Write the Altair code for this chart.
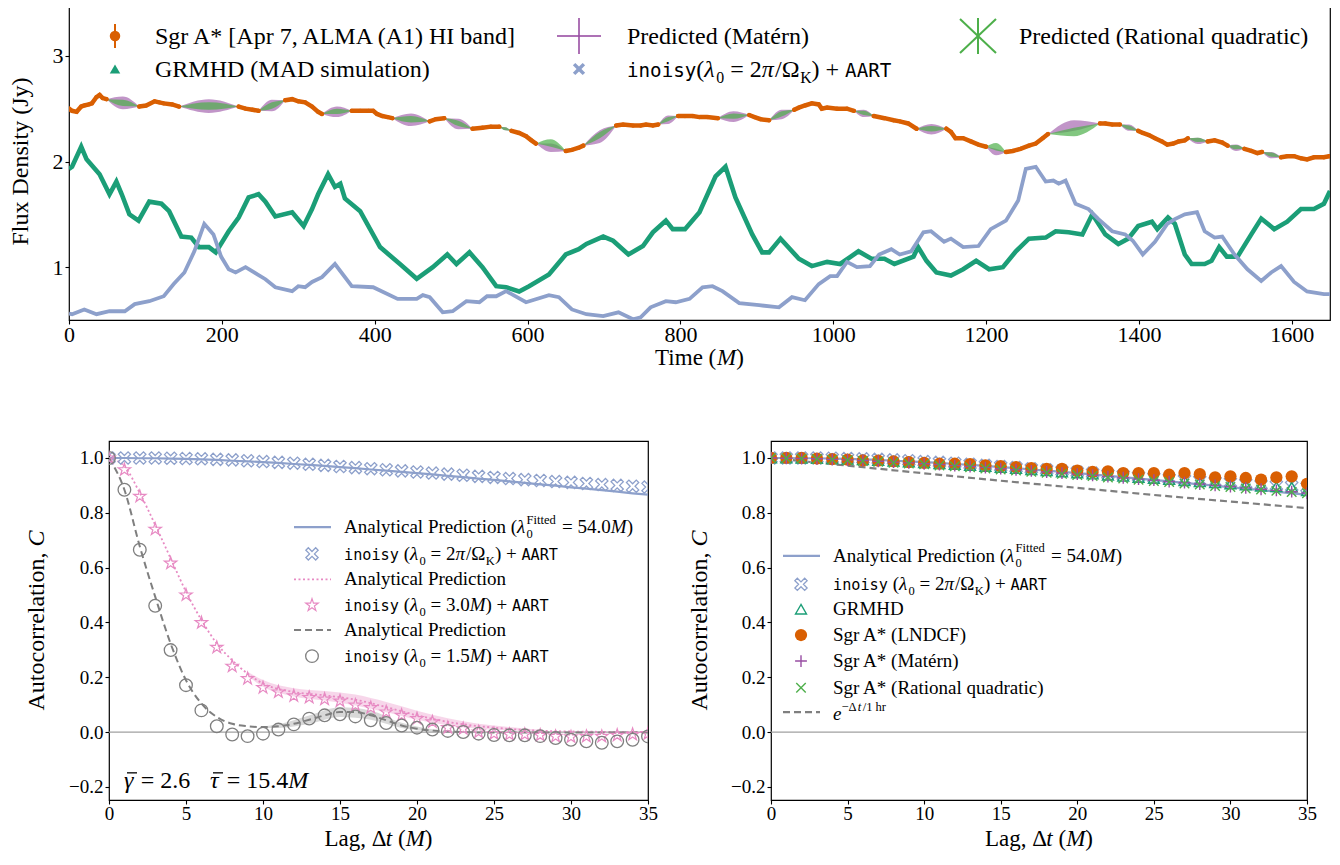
import altair as alt
import pandas as pd

SERIF = "Liberation Serif"
MONO = "DejaVu Sans Mono"
ORANGE = "#d95f02"
TEAL = "#1b9e77"
BLUE = "#8da0cb"
PINK = "#e78ac3"
GRAY = "#7f7f7f"
PURPLE = "#984ea3"
LGREEN = "#4daf4a"

# ---------------------------------------------------------------- data (top)
grmhd_time = [0, 4, 16, 23, 40, 53, 62, 69, 79, 91, 105, 121, 131, 147, 160, 170, 183, 192, 209, 222, 235,
              248, 257, 270, 292, 307, 318, 326, 339, 348, 355, 361, 381, 407, 433, 455, 476, 495, 507, 524, 541,
              559, 572, 589, 602, 628, 650, 667, 677, 699, 712, 732, 751, 764, 781, 790, 806, 825, 846, 859, 872,
              894, 907, 916, 931, 955, 972, 992, 1009, 1033, 1050, 1067, 1080, 1105, 1111, 1122, 1135, 1154, 1170, 1187, 1204,
              1222, 1239, 1256, 1278, 1291, 1308, 1326, 1339, 1356, 1373, 1386, 1399, 1417, 1424, 1438, 1447, 1460, 1469, 1486, 1495,
              1505, 1515, 1529, 1547, 1560, 1577, 1594, 1612, 1629, 1642, 1650]
grmhd_flux = [1.93, 1.95, 2.14, 2.02, 1.88, 1.69, 1.81, 1.69, 1.50, 1.44, 1.62, 1.60, 1.53, 1.29, 1.28, 1.19, 1.19, 1.14, 1.34, 1.47, 1.66,
              1.69, 1.62, 1.48, 1.52, 1.39, 1.55, 1.69, 1.88, 1.76, 1.79, 1.65, 1.53, 1.19, 1.03, 0.89, 1.00, 1.12, 1.03, 1.14, 1.00,
              0.82, 0.81, 0.77, 0.82, 0.93, 1.12, 1.17, 1.22, 1.29, 1.25, 1.12, 1.20, 1.33, 1.44, 1.36, 1.36, 1.52, 1.86, 1.95, 1.66,
              1.31, 1.14, 1.14, 1.27, 1.08, 1.01, 1.05, 1.03, 1.15, 1.08, 1.08, 1.03, 1.10, 1.19, 1.06, 0.95, 0.92, 0.98, 1.06, 0.98,
              1.00, 1.15, 1.27, 1.28, 1.34, 1.33, 1.31, 1.50, 1.31, 1.22, 1.27, 1.39, 1.43, 1.36, 1.47, 1.41, 1.12, 1.03, 1.03, 1.06,
              1.19, 1.10, 1.10, 1.31, 1.46, 1.36, 1.43, 1.55, 1.55, 1.60, 1.72]

inoisy_time = [0, 4, 20, 36, 53, 73, 86, 105, 124, 137, 151, 164, 177, 189, 199, 209, 218, 231, 247, 257,
               270, 292, 300, 309, 318, 331, 348, 370, 398, 430, 455, 463, 472, 489, 502, 520, 537, 547, 559, 572,
               598, 628, 641, 658, 677, 699, 719, 738, 748, 761, 781, 794, 812, 829, 842, 855, 877, 903, 929, 946,
               963, 981, 996, 1005, 1018, 1031, 1048, 1060, 1076, 1087, 1102, 1118, 1128, 1145, 1154, 1170, 1190, 1206, 1226, 1242,
               1252, 1265, 1278, 1288, 1295, 1304, 1317, 1334, 1347, 1365, 1382, 1392, 1405, 1421, 1437, 1447, 1460, 1476, 1486, 1499,
               1509, 1525, 1542, 1560, 1573, 1586, 1603, 1620, 1642, 1650]
inoisy_flux = [0.56, 0.555, 0.60, 0.555, 0.583, 0.583, 0.65, 0.678, 0.725, 0.84, 0.95, 1.15, 1.41, 1.31, 1.10, 0.98, 0.95, 1.00, 0.93, 0.886,
               0.81, 0.773, 0.82, 0.81, 0.86, 0.905, 1.03, 0.82, 0.81, 0.70, 0.70, 0.735, 0.716, 0.573, 0.583, 0.678, 0.668, 0.725, 0.725, 0.773,
               0.668, 0.735, 0.716, 0.60, 0.555, 0.536, 0.573, 0.507, 0.526, 0.62, 0.678, 0.668, 0.70, 0.81, 0.82, 0.773, 0.66, 0.64, 0.62, 0.716,
               0.687, 0.84, 0.915, 0.915, 1.05, 1.00, 1.01, 1.12, 1.17, 1.12, 1.15, 1.33, 1.34, 1.24, 1.27, 1.19, 1.20, 1.36, 1.44, 1.63,
               1.93, 1.95, 1.81, 1.82, 1.79, 1.82, 1.60, 1.55, 1.455, 1.34, 1.31, 1.25, 1.12, 1.24, 1.41, 1.455, 1.50, 1.52, 1.34, 1.28,
               1.29, 1.12, 0.98, 0.87, 0.95, 1.01, 0.86, 0.77, 0.745, 0.745]

# Sgr A* observed stretches (time, flux)
sgra_segments = [
    [(0, 2.50), (4, 2.48), (10, 2.47), (16, 2.52), (20, 2.53), (26, 2.54), (30, 2.55), (36, 2.61), (40, 2.63), (44, 2.60), (49, 2.59)],
    [(92, 2.52), (101, 2.53), (112, 2.57), (118, 2.56), (124, 2.55), (135, 2.54), (144, 2.52)],
    [(222, 2.52), (231, 2.50), (240, 2.49), (248, 2.48)],
    [(283, 2.58), (292, 2.59), (300, 2.57), (309, 2.56), (318, 2.52), (326, 2.47), (331, 2.45)],
    [(370, 2.48), (381, 2.48), (392, 2.48), (398, 2.48), (403, 2.45), (410, 2.43), (417, 2.42), (423, 2.41)],
    [(472, 2.38), (480, 2.40), (491, 2.41)],
    [(528, 2.31), (541, 2.32), (552, 2.33), (563, 2.33)],
    [(579, 2.29), (589, 2.27), (598, 2.24), (605, 2.20), (611, 2.17)],
    [(650, 2.10), (658, 2.11), (667, 2.13), (673, 2.15)],
    [(716, 2.34), (725, 2.35), (738, 2.34), (748, 2.34), (755, 2.35), (764, 2.34), (771, 2.35)],
    [(797, 2.43), (806, 2.43), (816, 2.43), (825, 2.42), (835, 2.42), (849, 2.41)],
    [(890, 2.44), (897, 2.42), (905, 2.40), (916, 2.39)],
    [(949, 2.49), (955, 2.51), (963, 2.53), (972, 2.55), (981, 2.54), (985, 2.50), (992, 2.51), (1005, 2.50), (1018, 2.50), (1027, 2.48)],
    [(1053, 2.43), (1067, 2.41), (1079, 2.39), (1087, 2.38), (1098, 2.36), (1109, 2.31)],
    [(1148, 2.31), (1154, 2.28), (1160, 2.22), (1170, 2.22), (1180, 2.19), (1190, 2.16), (1200, 2.14)],
    [(1226, 2.09), (1235, 2.10), (1245, 2.12), (1256, 2.15), (1265, 2.17), (1274, 2.22), (1281, 2.26)],
    [(1349, 2.36), (1356, 2.36), (1365, 2.35), (1375, 2.35)],
    [(1399, 2.29), (1405, 2.27), (1413, 2.25), (1421, 2.22), (1430, 2.19), (1437, 2.16), (1445, 2.17), (1452, 2.19), (1460, 2.20), (1464, 2.22)],
    [(1490, 2.19), (1499, 2.20), (1509, 2.18), (1516, 2.15)],
    [(1538, 2.12), (1547, 2.10), (1555, 2.08), (1561, 2.09)],
    [(1586, 2.04), (1594, 2.05), (1603, 2.05), (1612, 2.03), (1620, 2.02), (1629, 2.04), (1642, 2.04), (1649, 2.05)],
]

# predicted gaps: start/end time, flux at ends, centre and half-width at mid-gap
gap_t0 = [49, 144, 248, 331, 423, 491, 563, 611, 673, 771, 849, 916, 1027, 1109, 1200, 1281, 1375, 1464, 1516, 1561]
gap_t1 = [92, 222, 283, 370, 472, 528, 579, 650, 716, 797, 890, 949, 1053, 1148, 1226, 1349, 1399, 1490, 1538, 1586]
gap_f0 = [2.59, 2.52, 2.48, 2.45, 2.41, 2.41, 2.33, 2.17, 2.15, 2.35, 2.41, 2.39, 2.48, 2.31, 2.14, 2.26, 2.35, 2.22, 2.15, 2.09]
gap_f1 = [2.52, 2.52, 2.58, 2.48, 2.38, 2.31, 2.29, 2.10, 2.34, 2.43, 2.44, 2.49, 2.43, 2.31, 2.09, 2.36, 2.29, 2.19, 2.12, 2.04]
gap_mat_c = [2.555, 2.525, 2.53, 2.47, 2.395, 2.355, 2.31, 2.13, 2.235, 2.395, 2.425, 2.445, 2.455, 2.305, 2.09, 2.34, 2.32, 2.195, 2.13, 2.06]
gap_mat_w = [0.06, 0.065, 0.055, 0.05, 0.06, 0.05, 0.015, 0.04, 0.06, 0.04, 0.05, 0.045, 0.035, 0.05, 0.03, 0.05, 0.03, 0.03, 0.03, 0.03]
gap_rq_c = [2.555, 2.525, 2.53, 2.475, 2.40, 2.36, 2.31, 2.175, 2.25, 2.40, 2.43, 2.45, 2.46, 2.31, 2.14, 2.28, 2.32, 2.205, 2.135, 2.065]
gap_rq_w = [0.03, 0.035, 0.03, 0.025, 0.03, 0.025, 0.015, 0.035, 0.03, 0.02, 0.025, 0.025, 0.02, 0.025, 0.035, 0.04, 0.02, 0.02, 0.02, 0.02]

# ---------------------------------------------------------------- data (autocorrelation)
lags = list(range(36))
ac_inoisy_k = [1.000, 1.000, 1.000, 1.000, 0.999, 0.998, 0.997, 0.995, 0.993, 0.990, 0.987, 0.984, 0.981, 0.977, 0.973, 0.969,
               0.965, 0.961, 0.957, 0.953, 0.949, 0.945, 0.941, 0.937, 0.933, 0.929, 0.925, 0.921, 0.918, 0.914, 0.911, 0.907,
               0.903, 0.900, 0.897, 0.894]
ac_analytic_k = [1.000, 1.000, 0.999, 0.999, 0.998, 0.997, 0.995, 0.993, 0.990, 0.988, 0.985, 0.982, 0.978, 0.975, 0.971, 0.967,
                 0.963, 0.958, 0.954, 0.949, 0.945, 0.940, 0.935, 0.930, 0.925, 0.920, 0.915, 0.909, 0.904, 0.899, 0.893, 0.888,
                 0.883, 0.877, 0.871, 0.866]
ac_lam30 = [1.0, 0.957, 0.86, 0.74, 0.616, 0.50, 0.399, 0.309, 0.24, 0.195, 0.162, 0.146, 0.132, 0.126, 0.12, 0.113, 0.098,
            0.089, 0.073, 0.061, 0.049, 0.037, 0.016, 0.012, 0.0, -0.006, -0.009, -0.009, -0.012, -0.016, -0.018, -0.016,
            -0.016, -0.012, -0.009, -0.006]
ac_lam15 = [1.0, 0.884, 0.665, 0.461, 0.299, 0.171, 0.079, 0.021, -0.009, -0.015, -0.006, 0.009, 0.028, 0.049, 0.061, 0.065,
            0.057, 0.043, 0.033, 0.024, 0.016, 0.009, 0.004, 0.0, -0.006, -0.011, -0.012, -0.012, -0.015, -0.022, -0.028,
            -0.034, -0.039, -0.034, -0.028, -0.016]
pink_line_lag = [0, 1, 2, 3, 4, 5, 6, 7, 8, 9, 10, 12, 14, 16, 18, 20, 22, 25, 30, 35]
pink_line = [1.0, 0.97, 0.872, 0.756, 0.634, 0.512, 0.409, 0.323, 0.262, 0.213, 0.177, 0.146, 0.134, 0.118, 0.091, 0.061,
             0.037, 0.016, 0.002, 0.0]
pink_band_lag = [9, 10, 12, 14, 16, 18, 20, 22, 24, 26, 28]
pink_band_lo = [0.205, 0.165, 0.13, 0.115, 0.097, 0.072, 0.045, 0.025, 0.012, 0.006, 0.002]
pink_band_hi = [0.22, 0.19, 0.16, 0.15, 0.137, 0.11, 0.078, 0.05, 0.03, 0.018, 0.008]
gray_line_lag = [0, 1, 2, 3, 4, 5, 6, 7, 8, 9, 10, 11, 12, 13, 14, 15, 16, 17, 18, 19, 20, 22, 25, 30, 35]
gray_line = [1.0, 0.884, 0.677, 0.494, 0.323, 0.189, 0.104, 0.055, 0.030, 0.021, 0.018, 0.021, 0.030, 0.045, 0.061, 0.073,
             0.073, 0.061, 0.043, 0.024, 0.012, 0.002, -0.002, -0.002, -0.002]
gray_band_lag = [10, 11, 13, 15, 17, 19, 21]
gray_band_lo = [0.015, 0.015, 0.03, 0.055, 0.045, 0.015, 0.002]
gray_band_hi = [0.02, 0.028, 0.06, 0.09, 0.078, 0.034, 0.01]
ac_grmhd = [1.000, 1.000, 0.999, 0.998, 0.997, 0.995, 0.993, 0.991, 0.988, 0.985, 0.982, 0.979, 0.976, 0.972, 0.969, 0.965,
            0.961, 0.957, 0.953, 0.949, 0.945, 0.941, 0.937, 0.933, 0.929, 0.925, 0.921, 0.917, 0.913, 0.909, 0.905, 0.901,
            0.897, 0.895, 0.894, 0.880]
ac_lndcf = [1.0, 1.0, 1.0, 0.998, 0.996, 0.994, 0.991, 0.990, 0.988, 0.985, 0.982, 0.979, 0.979, 0.978, 0.973, 0.970, 0.967,
            0.963, 0.960, 0.960, 0.954, 0.949, 0.951, 0.945, 0.945, 0.945, 0.939, 0.945, 0.941, 0.929, 0.933, 0.927, 0.921,
            0.929, 0.933, 0.906]
ac_matern = [1.000, 0.999, 0.998, 0.997, 0.995, 0.993, 0.991, 0.988, 0.985, 0.982, 0.979, 0.976, 0.972, 0.969, 0.965, 0.961,
             0.957, 0.953, 0.949, 0.945, 0.941, 0.937, 0.932, 0.928, 0.923, 0.919, 0.914, 0.910, 0.905, 0.900, 0.896, 0.891,
             0.886, 0.882, 0.877, 0.872]
ac_rq = [1.000, 0.999, 0.998, 0.996, 0.994, 0.992, 0.989, 0.986, 0.983, 0.980, 0.977, 0.973, 0.970, 0.966, 0.962, 0.958,
         0.954, 0.950, 0.946, 0.942, 0.938, 0.934, 0.929, 0.925, 0.921, 0.916, 0.912, 0.907, 0.903, 0.898, 0.894, 0.889,
         0.885, 0.880, 0.876, 0.871]
exp_lag = [0, 5, 10, 15, 20, 25, 30, 35]
exp_val = [1.0, 0.972, 0.944, 0.917, 0.891, 0.865, 0.841, 0.817]

# ---------------------------------------------------------------- helpers
ONE = pd.DataFrame({"_": [0]})

W_RM = {" ": .25, "(": .333, ")": .333, "[": .333, "]": .333, "*": .5, "+": .564, "=": .564, "/": .278, ",": .25,
        ".": .25, "-": .333, "\u2212": .564,
        "A": .722, "C": .667, "D": .722, "F": .556, "G": .722, "H": .722, "I": .333, "J": .389, "K": .722, "L": .611,
        "M": .889, "N": .722, "P": .556, "R": .667, "S": .556, "T": .611,
        "a": .444, "b": .5, "c": .444, "d": .5, "e": .444, "f": .333, "g": .5, "h": .5, "i": .278, "l": .278, "m": .778,
        "n": .5, "o": .5, "p": .5, "q": .5, "r": .333, "s": .389, "t": .278, "u": .5, "x": .5, "y": .5, "\u00e9": .444,
        "\u0394": .61, "\u03a9": .77, "\u03bb": .5, "\u03c0": .55, "\u03b3": .45, "\u03c4": .45}
W_IT = dict(W_RM)
W_IT.update({"M": .833, "t": .278, "e": .444, "C": .667})
SMALL = 0.66


def run_width(text, style, size):
    if style == "tt":
        return 0.602 * 0.8 * size * len(text)
    table = W_IT if "it" in style else W_RM
    fs = size * SMALL if style[:3] in ("sub", "sup") else size
    return sum(table.get(ch, 0.5) for ch in text) * fs


def rich(runs, x, y, size, align="left", angle=0, color="black"):
    info = []
    total = 0.0
    for text, style in runs:
        noadv = style.endswith("!")
        st = style.rstrip("!")
        w = run_width(text, st, size)
        if st.startswith("sup"):
            w += 1.5
        adv = 0.0 if noadv else w
        info.append((text, st, adv))
        total += adv
    pos = -total / 2 if align == "center" else (-total if align == "right" else 0.0)
    layers = []
    for text, st, adv in info:
        small = st[:3] in ("sub", "sup")
        fs = size * SMALL if small else (size * 0.8 if st == "tt" else size)
        shift = 0.25 * size if st.startswith("sub") else (-0.5 * size if st.startswith("sup") else 0.0)
        body = text.lstrip(" ")
        lead = run_width(text[:len(text) - len(body)], st, size)
        body = body.rstrip(" ")
        if body:
            p = pos + lead
            if angle == 0:
                px, py = x + p, y + shift
            else:
                px, py = x + shift, y - p
            mk = dict(align="left", baseline="alphabetic", font=MONO if st == "tt" else SERIF,
                      fontSize=fs, color=color, fontStyle="italic" if "it" in st else "normal")
            if angle:
                mk["angle"] = angle
            layers.append(alt.Chart(ONE).mark_text(**mk).encode(
                x=alt.value(px), y=alt.value(py), text=alt.value(body)))
        pos += adv
    return layers


X_PATH = "M-1,-0.6L-0.6,-1L0,-0.4L0.6,-1L1,-0.6L0.4,0L1,0.6L0.6,1L0,0.4L-0.6,1L-1,0.6L-0.4,0Z"
STAR_PATH = ("M0,-1L0.2245,-0.309L0.951,-0.309L0.363,0.118L0.588,0.809L0,0.382L-0.588,0.809"
             "L-0.363,0.118L-0.951,-0.309L-0.2245,-0.309Z")
PLUS_PATH = "M-1,0L1,0M0,-1L0,1"
XTHIN_PATH = "M-1,-1L1,1M-1,1L1,-1"


def sym(x, y, shape, color, size, filled=False, sw=1.3):
    return alt.Chart(ONE).mark_point(shape=shape, filled=filled, size=size, color=color, strokeWidth=sw,
                                     opacity=1).encode(x=alt.value(x), y=alt.value(y))


def seg(x1, y1, x2, y2, color, sw=2.0, dash=None, opacity=1.0):
    kw = dict(color=color, strokeWidth=sw, opacity=opacity)
    if dash:
        kw["strokeDash"] = dash
    return alt.Chart(ONE).mark_rule(**kw).encode(x=alt.value(x1), x2=alt.value(x2), y=alt.value(y1), y2=alt.value(y2))


# ---------------------------------------------------------------- top panel
TW, TH = 1261, 317
tx = alt.X("t:Q", scale=alt.Scale(domain=[0, 1650], nice=False, zero=False),
           axis=alt.Axis(values=list(range(0, 1601, 200)), title=None, labelFontSize=22, labelFlush=False,
                         format="d", labelPadding=0))
ty = alt.Y("F:Q", scale=alt.Scale(domain=[0.5, 3.5], nice=False, zero=False),
           axis=alt.Axis(values=[1, 2, 3], title=None, labelFontSize=22, format="d"))

mat_rows, rq_rows = [], []
for i in range(len(gap_t0)):
    tm = (gap_t0[i] + gap_t1[i]) / 2
    mat_rows += [dict(t=gap_t0[i], F=gap_f0[i], F2=gap_f0[i], g=i),
                 dict(t=tm, F=gap_mat_c[i] - gap_mat_w[i], F2=gap_mat_c[i] + gap_mat_w[i], g=i),
                 dict(t=gap_t1[i], F=gap_f1[i], F2=gap_f1[i], g=i)]
    rq_rows += [dict(t=gap_t0[i], F=gap_f0[i], F2=gap_f0[i], g=i),
                dict(t=tm, F=gap_rq_c[i] - gap_rq_w[i], F2=gap_rq_c[i] + gap_rq_w[i], g=i),
                dict(t=gap_t1[i], F=gap_f1[i], F2=gap_f1[i], g=i)]
mat_df = pd.DataFrame(mat_rows)
rq_df = pd.DataFrame(rq_rows)
sgra_df = pd.DataFrame([dict(t=t, F=f, s=k) for k, sg in enumerate(sgra_segments) for (t, f) in sg])
grmhd_df = pd.DataFrame({"t": grmhd_time, "F": grmhd_flux})
inoisy_df = pd.DataFrame({"t": inoisy_time, "F": inoisy_flux})

top_layers = [
    alt.Chart(grmhd_df).mark_line(color=TEAL, strokeWidth=4.6, clip=True).encode(x=tx, y=ty),
    alt.Chart(inoisy_df).mark_line(color=BLUE, strokeWidth=3.8, clip=True).encode(x=tx, y=ty),
    alt.Chart(mat_df).mark_area(color=PURPLE, opacity=0.6, interpolate="monotone").encode(
        x=tx, y=ty, y2="F2:Q", detail="g:N"),
    alt.Chart(rq_df).mark_area(color=LGREEN, opacity=0.7, interpolate="monotone").encode(
        x=tx, y=ty, y2="F2:Q", detail="g:N"),
    alt.Chart(sgra_df).mark_line(color=ORANGE, strokeWidth=4.5, strokeCap="round", clip=True).encode(
        x=tx, y=ty, detail="s:N"),
    alt.Chart(sgra_df).mark_point(color=ORANGE, filled=True, size=18, opacity=1, clip=True).encode(x=tx, y=ty),
]

# legend of the top panel
LR1, LR2 = 33, 66
top_layers += [
    seg(46, LR1 - 12, 46, LR1 + 12, ORANGE, sw=2),
    sym(46, LR1, "circle", ORANGE, 110, filled=True),
    sym(46, LR2, "triangle-up", TEAL, 110, filled=True),
    seg(488, LR1, 532, LR1, PURPLE, sw=2, opacity=0.8),
    seg(510, LR1 - 18, 510, LR1 + 18, PURPLE, sw=2, opacity=0.8),
    sym(510, LR2, X_PATH, BLUE, 150, filled=True),
    seg(909, LR1 - 18, 909, LR1 + 18, LGREEN, sw=2),
    seg(891, LR1 - 17, 927, LR1 + 17, LGREEN, sw=2),
    seg(891, LR1 + 17, 927, LR1 - 17, LGREEN, sw=2),
]
TS = 24
top_layers += rich([("Sgr A* [Apr 7, ALMA (A1) HI band]", "rm")], 86, LR1 + 8, TS)
top_layers += rich([("GRMHD (MAD simulation)", "rm")], 86, LR2 + 8, TS)
top_layers += rich([("Predicted (Mat\u00e9rn)", "rm")], 558, LR1 + 8, TS)
top_layers += rich([("inoisy", "tt"), ("(", "rm"), ("\u03bb", "it"), ("0", "sub"), (" = 2", "rm"), ("\u03c0", "it"),
                    ("/\u03a9", "rm"), ("K", "sub"), (") + ", "rm"), ("AART", "tt")], 558, LR2 + 8, TS)
top_layers += rich([("Predicted (Rational quadratic)", "rm")], 950, LR1 + 8, TS)
# axis titles
top_layers += rich([("Flux Density (Jy)", "rm")], -41, TH / 2, 24, align="center", angle=270)
top_layers += rich([("Time (", "rm"), ("M", "it"), (")", "rm")], TW / 2, 362, 23, align="center")

top = alt.layer(*top_layers).properties(width=TW, height=TH)

# ---------------------------------------------------------------- bottom panels
BW1, BW2, BH = 539, 536, 359
YMIN, YMAX = -0.248, 1.062


def ypx(v):
    # pixel row (inside a bottom panel) of an autocorrelation value, for legend placement
    return (YMAX - v) / (YMAX - YMIN) * BH


def bx():
    return alt.X("lag:Q", scale=alt.Scale(domain=[0, 35], nice=False, zero=False),
                 axis=alt.Axis(values=list(range(0, 36, 5)), title=None, labelFontSize=19, labelFlush=False,
                               format="d", labelPadding=0))


def by():
    return alt.Y("c:Q", scale=alt.Scale(domain=[YMIN, YMAX], nice=False, zero=False),
                 axis=alt.Axis(values=[-0.2, 0, 0.2, 0.4, 0.6, 0.8, 1.0], title=None, labelFontSize=19, format=".1f"))


zero_df = pd.DataFrame({"c": [0.0]})


def series(vals, lagv=None):
    return pd.DataFrame({"lag": lagv if lagv is not None else lags, "c": vals})


AP_RUNS = [("Analytical Prediction (", "rm"), ("\u03bb", "it"), ("0", "sub!"), ("Fitted", "sup"), (" = 54.0", "rm"),
           ("M", "it"), (")", "rm")]
INK_RUNS = [("inoisy", "tt"), (" (", "rm"), ("\u03bb", "it"), ("0", "sub"), (" = 2", "rm"), ("\u03c0", "it"),
            ("/\u03a9", "rm"), ("K", "sub"), (") + ", "rm"), ("AART", "tt")]


def inl_runs(v):
    return [("inoisy", "tt"), (" (", "rm"), ("\u03bb", "it"), ("0", "sub"), (" = " + v, "rm"), ("M", "it"),
            (") + ", "rm"), ("AART", "tt")]


LS = 19
XT_BASE = 405
# left panel
bl_layers = [
    alt.Chart(zero_df).mark_rule(color="#a0a0a0", strokeWidth=1.3).encode(y=by()),
    alt.Chart(pd.DataFrame({"lag": pink_band_lag, "c": pink_band_lo, "c2": pink_band_hi})).mark_area(
        color=PINK, opacity=0.35, interpolate="monotone").encode(x=bx(), y=by(), y2="c2:Q"),
    alt.Chart(pd.DataFrame({"lag": gray_band_lag, "c": gray_band_lo, "c2": gray_band_hi})).mark_area(
        color=GRAY, opacity=0.3, interpolate="monotone").encode(x=bx(), y=by(), y2="c2:Q"),
    alt.Chart(series(ac_analytic_k)).mark_line(color=BLUE, strokeWidth=2.2, clip=True).encode(x=bx(), y=by()),
    alt.Chart(series(pink_line, pink_line_lag)).mark_line(color=PINK, strokeWidth=1.8, strokeDash=[2, 2.5],
                                                          interpolate="monotone", clip=True).encode(x=bx(), y=by()),
    alt.Chart(series(gray_line, gray_line_lag)).mark_line(color=GRAY, strokeWidth=2, strokeDash=[7, 4],
                                                          interpolate="monotone", clip=True).encode(x=bx(), y=by()),
    alt.Chart(series(ac_inoisy_k)).mark_point(shape=X_PATH, filled=False, size=150, color=BLUE, strokeWidth=1.3,
                                              opacity=1, clip=True).encode(x=bx(), y=by()),
    alt.Chart(series(ac_lam30)).mark_point(shape=STAR_PATH, filled=False, size=170, color=PINK, strokeWidth=1.2,
                                           opacity=1, clip=True).encode(x=bx(), y=by()),
    alt.Chart(series(ac_lam15)).mark_point(shape="circle", filled=False, size=160, color=GRAY, strokeWidth=1.3,
                                           opacity=1, clip=True).encode(x=bx(), y=by()),
]
BLR = [ypx(v) for v in (0.748, 0.650, 0.557, 0.463, 0.372, 0.277)]
bl_layers += [
    seg(185, BLR[0], 222, BLR[0], BLUE, sw=2.2),
    sym(203, BLR[1], X_PATH, BLUE, 150),
    seg(185, BLR[2], 222, BLR[2], PINK, sw=1.8, dash=[2, 2.5]),
    sym(203, BLR[3], STAR_PATH, PINK, 170, sw=1.2),
    seg(185, BLR[4], 222, BLR[4], GRAY, sw=2, dash=[7, 4]),
    sym(203, BLR[5], "circle", GRAY, 160),
]
bl_layers += rich(AP_RUNS, 235, BLR[0] + 6, LS)
bl_layers += rich(INK_RUNS, 235, BLR[1] + 6, LS)
bl_layers += rich([("Analytical Prediction", "rm")], 235, BLR[2] + 6, LS)
bl_layers += rich(inl_runs("3.0"), 235, BLR[3] + 6, LS)
bl_layers += rich([("Analytical Prediction", "rm")], 235, BLR[4] + 6, LS)
bl_layers += rich(inl_runs("1.5"), 235, BLR[5] + 6, LS)
# gamma-bar / tau-bar annotation (bars drawn as short strokes)
GB = ypx(-0.2) + 1
bl_layers += rich([("\u03b3", "it"), (" = 2.6", "rm")], 15, GB, 24)
bl_layers += rich([("\u03c4", "it"), (" = 15.4", "rm"), ("M", "it")], 101, GB, 24)
bl_layers += [seg(18, GB - 15, 28, GB - 15, "black", sw=1.3), seg(104, GB - 15, 114, GB - 15, "black", sw=1.3)]
bl_layers += rich([("Autocorrelation, ", "rm"), ("C", "it")], -65, BH / 2, 24, align="center", angle=270)
bl_layers += rich([("Lag, \u0394", "rm"), ("t", "it"), (" (", "rm"), ("M", "it"), (")", "rm")], BW1 / 2, XT_BASE, 23,
                  align="center")
bl = alt.layer(*bl_layers).properties(width=BW1, height=BH)

# right panel
br_layers = [
    alt.Chart(zero_df).mark_rule(color="#a0a0a0", strokeWidth=1.3).encode(y=by()),
    alt.Chart(series(ac_analytic_k)).mark_line(color=BLUE, strokeWidth=2.2, clip=True).encode(x=bx(), y=by()),
    alt.Chart(series(exp_val, exp_lag)).mark_line(color=GRAY, strokeWidth=2.2, strokeDash=[7, 4], clip=True).encode(
        x=bx(), y=by()),
    alt.Chart(series(ac_inoisy_k)).mark_point(shape=X_PATH, filled=False, size=150, color=BLUE, strokeWidth=1.3,
                                              opacity=1, clip=True).encode(x=bx(), y=by()),
    alt.Chart(series(ac_grmhd)).mark_point(shape="triangle-up", filled=False, size=120, color=TEAL, strokeWidth=1.4,
                                           opacity=1, clip=True).encode(x=bx(), y=by()),
    alt.Chart(series(ac_lndcf)).mark_point(shape="circle", filled=True, size=150, color=ORANGE,
                                           opacity=1, clip=True).encode(x=bx(), y=by()),
    alt.Chart(series(ac_matern)).mark_point(shape=PLUS_PATH, filled=False, size=140, color=PURPLE, strokeWidth=1.4,
                                            opacity=1, clip=True).encode(x=bx(), y=by()),
    alt.Chart(series(ac_rq)).mark_point(shape=XTHIN_PATH, filled=False, size=90, color=LGREEN, strokeWidth=1.4,
                                        opacity=1, clip=True).encode(x=bx(), y=by()),
]
BRR = [ypx(v) for v in (0.643, 0.539, 0.448, 0.354, 0.259, 0.162, 0.073)]
br_layers += [
    seg(12, BRR[0], 49, BRR[0], BLUE, sw=2.2),
    sym(30, BRR[1], X_PATH, BLUE, 150),
    sym(30, BRR[2], "triangle-up", TEAL, 120, sw=1.4),
    sym(30, BRR[3], "circle", ORANGE, 150, filled=True),
    sym(30, BRR[4], PLUS_PATH, PURPLE, 140, sw=1.4),
    sym(30, BRR[5], XTHIN_PATH, LGREEN, 90, sw=1.4),
    seg(12, BRR[6], 49, BRR[6], GRAY, sw=2.2, dash=[7, 4]),
]
br_layers += rich(AP_RUNS, 62, BRR[0] + 6, LS)
br_layers += rich(INK_RUNS, 62, BRR[1] + 6, LS)
br_layers += rich([("GRMHD", "rm")], 62, BRR[2] + 6, LS)
br_layers += rich([("Sgr A* (LNDCF)", "rm")], 62, BRR[3] + 6, LS)
br_layers += rich([("Sgr A* (Mat\u00e9rn)", "rm")], 62, BRR[4] + 6, LS)
br_layers += rich([("Sgr A* (Rational quadratic)", "rm")], 62, BRR[5] + 6, LS)
br_layers += rich([("e", "it"), ("\u2212\u0394", "sup"), ("t", "supit"), ("/1 hr", "sup")], 62, BRR[6] + 8, LS)
br_layers += rich([("Autocorrelation, ", "rm"), ("C", "it")], -64, BH / 2, 24, align="center", angle=270)
br_layers += rich([("Lag, \u0394", "rm"), ("t", "it"), (" (", "rm"), ("M", "it"), (")", "rm")], BW2 / 2, XT_BASE, 23,
                  align="center")
br = alt.layer(*br_layers).properties(width=BW2, height=BH)

spacer = alt.Chart(ONE).mark_point(opacity=0).encode(x=alt.value(0), y=alt.value(0)).properties(
    width=40, height=BH, view=alt.ViewBackground(strokeOpacity=0))

bottom = alt.hconcat(spacer, alt.hconcat(bl, br, spacing=123, bounds="flush"), spacing=0, bounds="flush")

chart = alt.vconcat(top, bottom, spacing=121, bounds="flush").properties(
    padding={"left": 0, "top": -6, "right": 0, "bottom": 0}
).configure(background="white").configure_view(
    stroke="black", strokeWidth=1.2
).configure_axis(
    grid=False, domain=False, tickColor="black", tickSize=4, tickWidth=1.1, labelColor="black",
    labelFont=SERIF, labelPadding=2
)

chart.save("out.html", embed_options={"renderer": "svg", "actions": False})
